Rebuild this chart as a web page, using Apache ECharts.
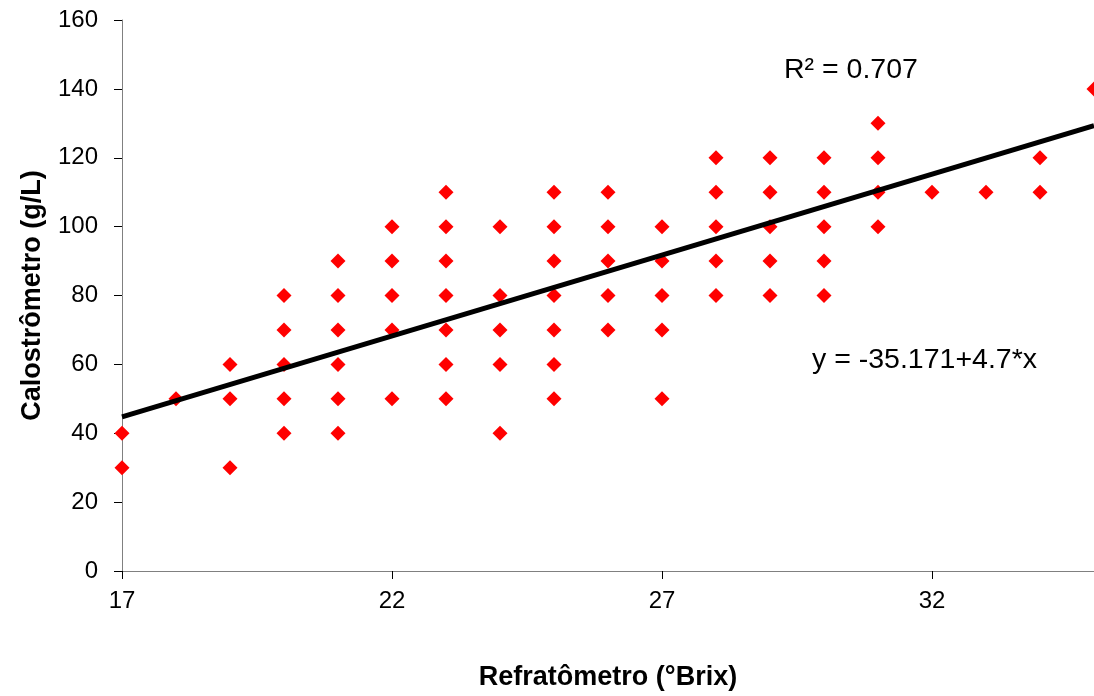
<!DOCTYPE html>
<html>
<head>
<meta charset="utf-8">
<script src="https://cdn.jsdelivr.net/npm/echarts@6/dist/echarts.min.js"></script>
<style>
  html, body { margin: 0; padding: 0; background: #fff; }
  #chart { width: 1094px; height: 696px; }
</style>
</head>
<body>
<div id="chart"></div>
<script>
// Refratometro (Brix) reading for each sample
const brix = [
  17, 17,
  18,
  19, 19, 19,
  20, 20, 20, 20, 20,
  21, 21, 21, 21, 21, 21,
  22, 22, 22, 22, 22,
  23, 23, 23, 23, 23, 23, 23,
  24, 24, 24, 24, 24,
  25, 25, 25, 25, 25, 25, 25,
  26, 26, 26, 26, 26,
  27, 27, 27, 27, 27,
  28, 28, 28, 28, 28,
  29, 29, 29, 29, 29,
  30, 30, 30, 30, 30,
  31, 31, 31, 31,
  32,
  33,
  34, 34,
  35
]
// Calostrometro (g/L) reading for the same samples
const calostro = [
  40, 30,
  50,
  60, 50, 30,
  80, 70, 60, 50, 40,
  90, 80, 70, 60, 50, 40,
  100, 90, 80, 70, 50,
  110, 100, 90, 80, 70, 60, 50,
  100, 80, 70, 60, 40,
  110, 100, 90, 80, 70, 60, 50,
  110, 100, 90, 80, 70,
  100, 90, 80, 70, 50,
  120, 110, 100, 90, 80,
  120, 110, 100, 90, 80,
  120, 110, 100, 90, 80,
  130, 120, 110, 100,
  110,
  110,
  120, 110,
  140
]
// trend line y = -35.171 + 4.7*x, end points
const trendX = [17, 35]
const trendY = [44.729, 129.329]

const xTicks = [17, 22, 27, 32]

const font = 'Liberation Sans, Arial, sans-serif'
const chart = echarts.init(document.getElementById('chart'))

const option = {
  animation: false,
  backgroundColor: '#fff',
  textStyle: { fontFamily: font },
  grid: { left: 122, right: 0, top: 20, bottom: 121 },
  xAxis: {
    type: 'value',
    min: 17,
    max: 35,
    name: 'Refratômetro (°Brix)',
    nameLocation: 'middle',
    nameGap: 93,
    nameTextStyle: { fontSize: 27, fontWeight: 'bold', color: '#000' },
    splitLine: { show: false },
    axisLine: { show: true, lineStyle: { color: '#808080', width: 1 } },
    axisTick: { show: true, length: 8, customValues: xTicks, lineStyle: { color: '#000' } },
    axisLabel: { customValues: xTicks, fontSize: 24, color: '#000', margin: 18 }
  },
  yAxis: {
    type: 'value',
    min: 0,
    max: 160,
    interval: 20,
    name: 'Calostrômetro (g/L)',
    nameLocation: 'middle',
    nameGap: 76,
    nameTextStyle: { fontSize: 27, fontWeight: 'bold', color: '#000' },
    splitLine: { show: false },
    axisLine: { show: true, lineStyle: { color: '#808080', width: 1 } },
    axisTick: { show: true, length: 8, lineStyle: { color: '#000' } },
    axisLabel: { fontSize: 24, color: '#000', margin: 24 }
  },
  graphic: [
    {
      type: 'text',
      left: 784,
      top: 56,
      style: { text: 'R² = 0.707', fontSize: 28.5, fill: '#000', fontFamily: font }
    },
    {
      type: 'text',
      left: 812,
      top: 346,
      style: { text: 'y = -35.171+4.7*x', fontSize: 28.5, fill: '#000', fontFamily: font }
    }
  ],
  series: [
    {
      type: 'scatter',
      data: brix.map((x, i) => [x, calostro[i]]),
      symbol: 'diamond',
      symbolSize: [15, 15],
      clip: false,
      itemStyle: { color: '#ff0000', opacity: 1 },
      z: 2
    },
    {
      type: 'line',
      data: trendX.map((x, i) => [x, trendY[i]]),
      symbol: 'none',
      clip: false,
      lineStyle: { color: '#000', width: 5 },
      z: 3
    }
  ]
}
chart.setOption(option)
</script>
</body>
</html>
